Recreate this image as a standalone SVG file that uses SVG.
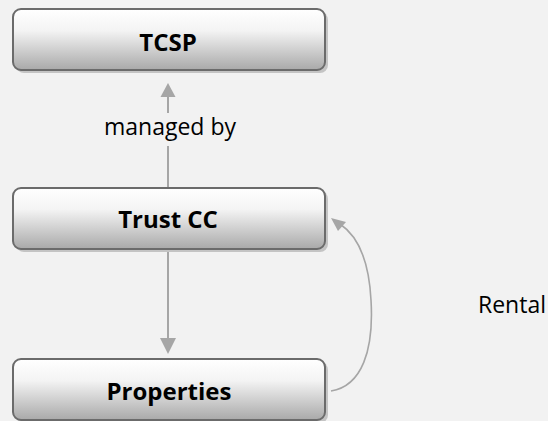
<svg xmlns="http://www.w3.org/2000/svg" width="548" height="421" viewBox="0 0 548 421">
  <defs>
    <linearGradient id="boxFill" x1="0" y1="0" x2="0" y2="1">
      <stop offset="0" stop-color="#ffffff"/>
      <stop offset="0.35" stop-color="#f4f4f4"/>
      <stop offset="1" stop-color="#a9a9a9"/>
    </linearGradient>
  </defs>
  <style>
    .shadow { fill: #c4c4c4; }
    .box { fill: url(#boxFill); stroke: #6b6b6b; stroke-width: 2; }
    .label { font-family: "Open Sans", "Liberation Sans", sans-serif; font-weight: bold; font-size: 24px; fill: #000; text-anchor: middle; }
    .note { font-family: "Open Sans", "Liberation Sans", sans-serif; font-size: 23px; fill: #000; }
    .conn { fill: none; stroke: #a6a6a6; stroke-width: 2; }
    .head { fill: #a6a6a6; }
  </style>
  <rect width="548" height="421" fill="#f2f2f2"/>

  <g id="connectors">
    <!-- Trust CC up to TCSP, split around its label -->
    <line class="conn" x1="168" y1="113" x2="168" y2="97"/>
    <path class="head" d="M160.5,97 L168,83 L175.5,97 z"/>
    <line class="conn" x1="168" y1="146" x2="168" y2="188"/>
    <!-- Trust CC down to Properties -->
    <line class="conn" x1="168" y1="252" x2="168" y2="338"/>
    <path class="head" d="M160,338 L168,354 L176,338 z"/>
    <!-- Properties back round to Trust CC -->
    <path class="conn" style="stroke-width:1.6" d="M331,391 C362,386 374,350 371,300 C369,262 358,236 340,224"/>
    <path class="head" d="M331,218 L346,222 L338,231 z"/>
  </g>

  <g id="tcsp">
    <rect class="shadow" x="16" y="12" width="312" height="61" rx="8"/>
    <rect class="box" x="13" y="9" width="312" height="61" rx="8"/>
    <text class="label" x="168" y="51">TCSP</text>
  </g>

  <g id="managed-by">
    <text class="note" x="170" y="135" text-anchor="middle">managed by</text>
  </g>

  <g id="trust-cc">
    <rect class="shadow" x="16" y="191" width="312" height="61" rx="8"/>
    <rect class="box" x="13" y="188" width="312" height="61" rx="8"/>
    <text class="label" x="168" y="228">Trust CC</text>
  </g>

  <g id="properties">
    <rect class="shadow" x="16" y="362" width="312" height="61" rx="8"/>
    <rect class="box" x="13" y="359" width="312" height="61" rx="8"/>
    <text class="label" x="169" y="400">Properties</text>
  </g>

  <g id="rental">
    <text class="note" x="478" y="313">Rental</text>
  </g>
</svg>
